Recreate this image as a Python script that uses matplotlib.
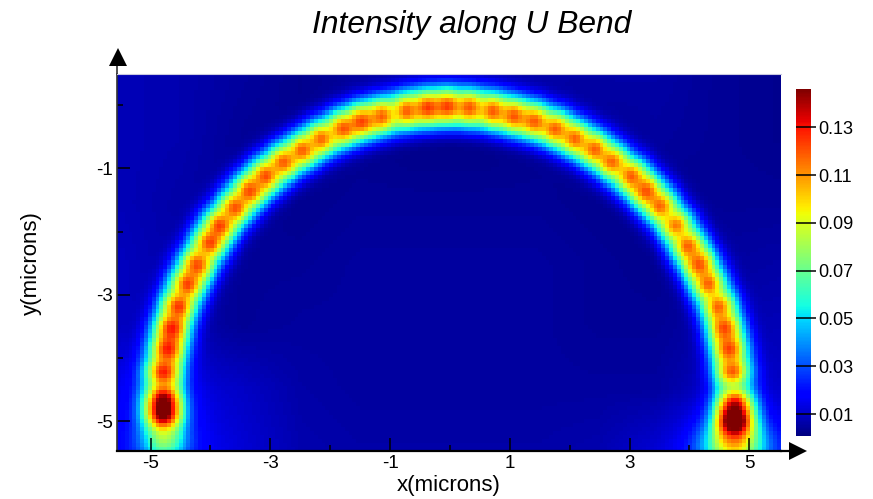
import numpy as np
import matplotlib
matplotlib.use("Agg")
import matplotlib.pyplot as plt
from matplotlib.colors import Normalize

plt.rcParams['font.family'] = ['Liberation Sans', 'DejaVu Sans']
plt.rcParams['axes.unicode_minus'] = False

# bright spots read along the bend, left end to right end (microns, intensity)
bead_x = [-4.81, -4.81, -4.81, -4.74, -4.67, -4.56, -4.41, -4.24, -4.04, -3.86, -3.61,
          -3.36, -3.09, -2.79, -2.47, -2.15, -1.80, -1.47, -1.12, -0.73, -0.37, -0.02,
          0.35, 0.73, 1.09, 1.44, 1.79, 2.12, 2.45, 2.75, 3.06, 3.32, 3.57, 3.82,
          4.02, 4.21, 4.37, 4.54, 4.64, 4.72, 4.77, 4.81, 4.81]
bead_y = [-4.93, -4.65, -4.24, -3.87, -3.53, -3.18, -2.83, -2.51, -2.18, -1.88, -1.60,
          -1.33, -1.09, -0.87, -0.68, -0.49, -0.33, -0.21, -0.13, -0.05, 0.00, 0.02,
          0.00, -0.05, -0.13, -0.21, -0.33, -0.49, -0.66, -0.87, -1.09, -1.33, -1.58, -1.88,
          -2.21, -2.51, -2.83, -3.18, -3.53, -3.87, -4.24, -4.70, -5.01]
bead_peak = [0.124, 0.118, 0.122, 0.122, 0.126, 0.126, 0.125, 0.124, 0.124, 0.124, 0.124,
             0.124, 0.124, 0.123, 0.123, 0.123, 0.123, 0.123, 0.123, 0.123, 0.124, 0.124,
             0.124, 0.123, 0.122, 0.121, 0.121, 0.121, 0.121, 0.121, 0.121, 0.121, 0.121, 0.121,
             0.121, 0.120, 0.120, 0.120, 0.120, 0.120, 0.120, 0.104, 0.128]

# faint background read at coarse points
bg_x = [-5.5, -4.5, -3.5, -2.5, -1.5, -0.5, 0.5, 1.5, 2.5, 3.5, 4.5, 5.5]
bg_y = [-5.5, -4.5, -3.5, -2.5, -1.5, -0.5, 0.5]
bg_val = [
    [0.018, 0.018, 0.012, 0.007, 0.006, 0.006, 0.006, 0.006, 0.007, 0.012, 0.022, 0.018],
    [0.014, 0.012, 0.010, 0.006, 0.005, 0.005, 0.005, 0.005, 0.005, 0.005, 0.010, 0.010],
    [0.009, 0.007, 0.004, 0.005, 0.005, 0.005, 0.005, 0.005, 0.004, 0.004, 0.006, 0.008],
    [0.009, 0.006, 0.004, 0.004, 0.005, 0.005, 0.005, 0.005, 0.004, 0.003, 0.005, 0.006],
    [0.008, 0.006, 0.004, 0.003, 0.004, 0.004, 0.004, 0.004, 0.003, 0.003, 0.004, 0.004],
    [0.008, 0.007, 0.004, 0.003, 0.003, 0.002, 0.002, 0.003, 0.004, 0.005, 0.004, 0.003],
    [0.008, 0.007, 0.005, 0.003, 0.005, 0.007, 0.007, 0.006, 0.006, 0.006, 0.004, 0.003],
]

# glow under the two ends (x, y, sigma x, sigma y, intensity)
glow_x = [-4.8, -4.8, 4.8, 4.8]
glow_y = [-5.35, -4.7, -5.4, -5.1]
glow_sx = [0.26, 0.40, 0.36, 0.30]
glow_sy = [0.22, 0.55, 0.26, 0.45]
glow_val = [0.052, 0.010, 0.064, 0.022]

cbar_ticks = [0.01, 0.03, 0.05, 0.07, 0.09, 0.11, 0.13]
x_major = [-5, -3, -1, 1, 3, 5]
x_minor = [-4, -2, 0, 2, 4]
y_major = [-5, -3, -1]
y_minor = [-4, -2, 0]

XMIN, XMAX = -5.56, 5.53
YMIN, YMAX = -5.47, 0.49
VMIN, VMAX = 0.0008, 0.146

# cells of the map
xc = np.arange(XMIN, XMAX + 0.065, 0.065)
yc = np.arange(YMIN, YMAX + 0.065, 0.065)
X, Y = np.meshgrid(xc, yc)

bg = np.array([np.interp(xc, bg_x, row) for row in bg_val])
Z = np.array([np.interp(yc, bg_y, bg[:, j]) for j in range(len(xc))]).T

for gx, gy, sx, sy, v in zip(glow_x, glow_y, glow_sx, glow_sy, glow_val):
    Z += v * np.exp(-(X - gx)**2 / (2 * sx**2) - (Y - gy)**2 / (2 * sy**2))

# smooth guide along the bend plus a round bump at each spot
tx = np.gradient(bead_x)
ty = np.gradient(bead_y)
tn = np.hypot(tx, ty)
tx, ty = tx / tn, ty / tn
for bx, by, p, ux, uy in zip(bead_x, bead_y, bead_peak, tx, ty):
    along = (X - bx) * ux + (Y - by) * uy
    across = -(X - bx) * uy + (Y - by) * ux
    Z += p * 0.80 / 1.327 * np.exp(-along**2 / (2 * 0.18**2)) * np.exp(-(across**2 / (2 * 0.25**2))**1.25)
    Z += p * 0.19 * np.exp(-(along**2 + across**2) / (2 * 0.12**2))

fig = plt.figure(figsize=(8.73, 4.99), dpi=100)
ax = fig.add_axes([117 / 873, 1 - 451 / 499, 664 / 873, 377 / 499])
norm = Normalize(VMIN, VMAX)
im = ax.imshow(Z, origin='lower', extent=[XMIN, XMAX, YMIN, YMAX], aspect='auto',
               cmap='jet', norm=norm, interpolation='nearest')

ax.set_xlim(XMIN, XMAX)
ax.set_ylim(YMIN, YMAX)
ax.set_xticks(x_major)
ax.set_xticks(x_minor, minor=True)
ax.set_yticks(y_major)
ax.set_yticks(y_minor, minor=True)
ax.tick_params(which='major', direction='in', length=9.5, width=1.1, labelsize=13.5, pad=3)
ax.tick_params(which='minor', direction='in', length=4.5, width=1.1)
ax.spines['right'].set_visible(False)
ax.spines['top'].set_color('#c8c8e0')
ax.spines['top'].set_linewidth(0.8)
ax.spines['left'].set_color('#333333')
ax.spines['left'].set_linewidth(1.2)
ax.spines['bottom'].set_linewidth(1.6)

# arrows at the ends of the axes
ax.plot([0, 0], [1, 1.035], color='#333333', lw=1.2, transform=ax.transAxes, clip_on=False)
ax.plot([0.0015], [1.045], marker='^', color='black', ms=13, transform=ax.transAxes,
        clip_on=False, mew=0)
ax.plot([1, 1.012], [0, 0], color='black', lw=1.6, transform=ax.transAxes, clip_on=False)
ax.plot([1.0256], [0], marker='>', color='black', ms=13, transform=ax.transAxes,
        clip_on=False, mew=0)

fig.text(472 / 873, 1 - 25 / 499, 'Intensity along U Bend', fontsize=22.9, style='italic',
         ha='center', va='center', color='black')
fig.text(449 / 873, 1 - 486 / 499, 'x(microns)', fontsize=16, ha='center', va='center')
fig.text(31 / 873, 1 - 263 / 499, 'y(microns)', fontsize=16, rotation=90,
         ha='center', va='center')

cax = fig.add_axes([796 / 873, 1 - 436 / 499, 15 / 873, 347 / 499])
cbar = fig.colorbar(im, cax=cax, ticks=cbar_ticks)
cbar.outline.set_visible(False)
cbar.ax.tick_params(length=3.6, width=1.1, labelsize=13, pad=1.5)
cbar.ax.set_yticklabels([f'{t:.2f}' for t in cbar_ticks])
cbar.ax.hlines(cbar_ticks, 0, 1, color='black', lw=1.1)

plt.savefig('out.png', dpi=100)
